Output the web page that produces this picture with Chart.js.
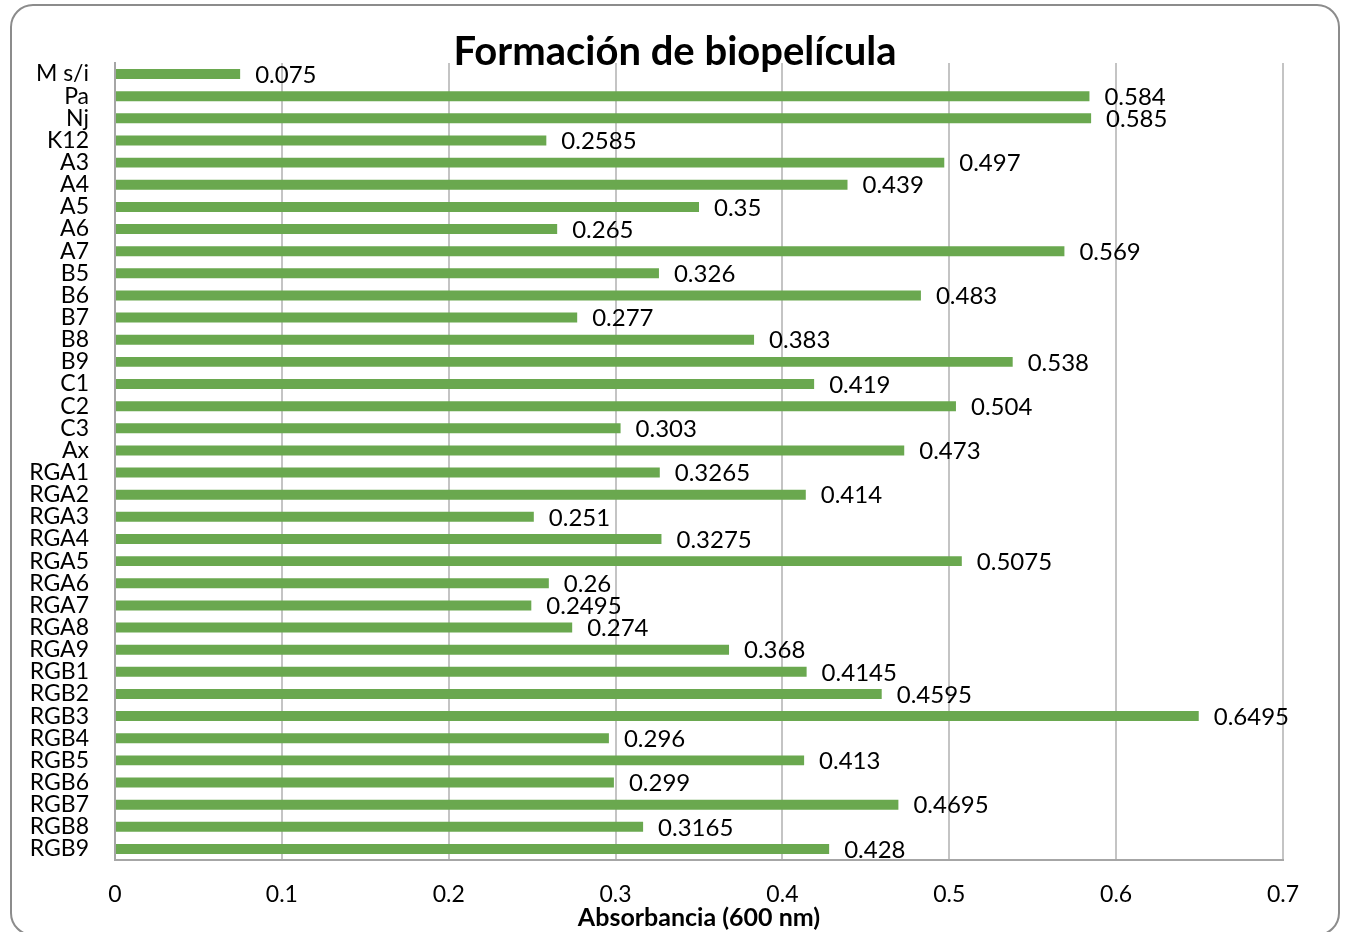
<!DOCTYPE html>
<html>
<head>
<meta charset="utf-8">
<script src="https://cdn.jsdelivr.net/npm/chart.js@4"></script>
<style>
  html, body { margin: 0; padding: 0; background: #ffffff; }
  canvas { display: block; }
</style>
</head>
<body>
<canvas id="c" width="1347" height="932"></canvas>
<script>
const categories = ['M s/i','Pa','Nj','K12','A3','A4','A5','A6','A7','B5','B6','B7','B8','B9','C1','C2','C3','Ax',
  'RGA1','RGA2','RGA3','RGA4','RGA5','RGA6','RGA7','RGA8','RGA9',
  'RGB1','RGB2','RGB3','RGB4','RGB5','RGB6','RGB7','RGB8','RGB9'];
const absorbance = [0.075,0.584,0.585,0.2585,0.497,0.439,0.35,0.265,0.569,0.326,0.483,0.277,0.383,0.538,0.419,0.504,0.303,0.473,
  0.3265,0.414,0.251,0.3275,0.5075,0.26,0.2495,0.274,0.368,
  0.4145,0.4595,0.6495,0.296,0.413,0.299,0.4695,0.3165,0.428];
const xTickLabels = ['0','0.1','0.2','0.3','0.4','0.5','0.6','0.7'];
const chartTitle = 'Formación de biopelícula';
const xAxisTitle = 'Absorbancia (600 nm)';

const FONT = 'Lato, "Open Sans", sans-serif';

const framePlugin = {
  id: 'frame',
  beforeDraw(chart) {
    const ctx = chart.ctx;
    ctx.save();
    ctx.fillStyle = '#ffffff';
    ctx.fillRect(0, 0, chart.width, chart.height);
    ctx.strokeStyle = '#8c8c8c';
    ctx.lineWidth = 2;
    ctx.beginPath();
    ctx.roundRect(11, 5, 1328, 930, 22);
    ctx.stroke();
    ctx.restore();
  }
};

const labelPlugin = {
  id: 'valueLabels',
  afterDatasetsDraw(chart) {
    const ctx = chart.ctx;
    const meta = chart.getDatasetMeta(0);
    ctx.save();
    ctx.font = '24px ' + FONT;
    ctx.fillStyle = '#000000';
    ctx.textAlign = 'left';
    ctx.textBaseline = 'middle';
    meta.data.forEach((bar, i) => {
      ctx.fillText(String(absorbance[i]), bar.x + 15, bar.y + 1);
    });
    ctx.restore();
  }
};

new Chart(document.getElementById('c'), {
  type: 'bar',
  data: {
    labels: categories,
    datasets: [{
      data: absorbance,
      backgroundColor: '#6aa84f',
      borderWidth: 0,
      barPercentage: 0.45,
      categoryPercentage: 1.0
    }]
  },
  options: {
    indexAxis: 'y',
    responsive: false,
    animation: false,
    devicePixelRatio: 1,
    layout: { padding: { left: 6, right: 3, top: 0, bottom: 0 } },
    plugins: {
      legend: { display: false },
      tooltip: { enabled: false },
      title: {
        display: true,
        text: chartTitle,
        color: '#000000',
        font: { family: FONT, size: 40, weight: 'bold', lineHeight: 1 },
        padding: { top: 32, bottom: -9 }
      }
    },
    scales: {
      x: {
        min: 0,
        max: 0.7,
        ticks: {
          stepSize: 0.1,
          color: '#000000',
          font: { family: FONT, size: 23 },
          padding: 21,
          callback: (v, i) => xTickLabels[i]
        },
        grid: { display: true, color: '#c4c4c4', lineWidth: 2, drawTicks: false },
        border: { display: true, color: '#a6a6a6', width: 2 },
        title: {
          display: true,
          text: xAxisTitle,
          color: '#000000',
          font: { family: FONT, size: 25, weight: 'bold', lineHeight: 1 },
          padding: { top: 0, bottom: 1.5 }
        },
        afterFit(scale) { scale.height = 72; }
      },
      y: {
        ticks: {
          autoSkip: false,
          color: '#000000',
          font: { family: FONT, size: 23, lineHeight: 1 },
          padding: 26
        },
        grid: { display: false, drawTicks: false },
        border: { display: true, color: '#a6a6a6', width: 2 },
        afterFit(scale) { scale.width = 109; }
      },
      yRightSpace: {
        type: 'category',
        position: 'right',
        display: true,
        ticks: { display: false },
        grid: { display: false, drawTicks: false },
        border: { display: false },
        afterFit(scale) { scale.width = 61; }
      }
    }
  },
  plugins: [framePlugin, labelPlugin]
});
</script>
</body>
</html>
